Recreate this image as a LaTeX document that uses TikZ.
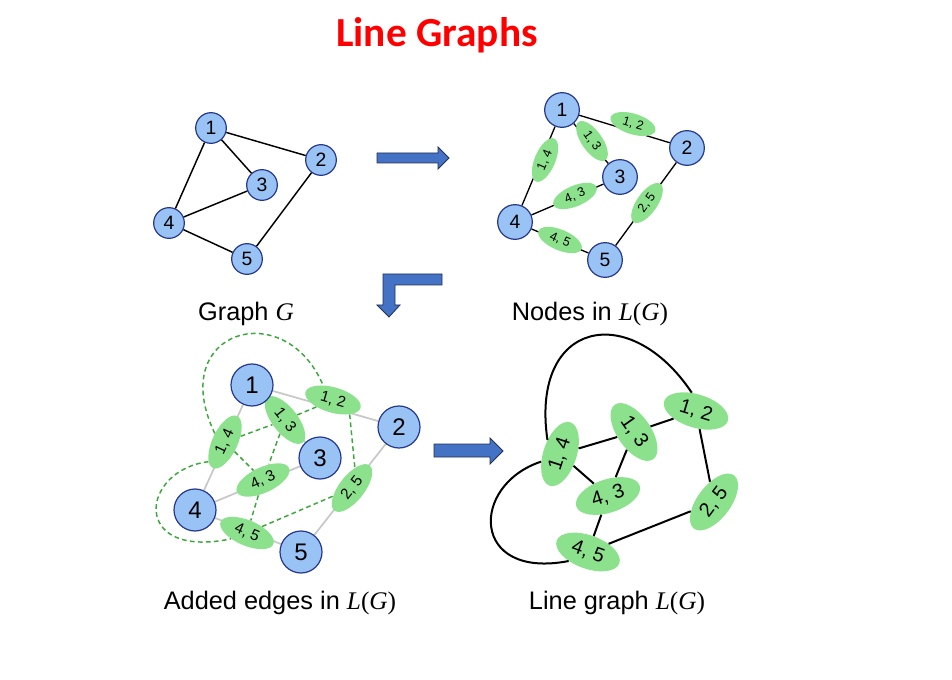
\documentclass[tikz,border=0pt]{standalone}
\usepackage{fontspec}
\setmainfont{Liberation Sans}
\newfontfamily\titlefont{Carlito}
\newfontfamily\lgserif{Liberation Serif}
\usetikzlibrary{shapes.geometric,backgrounds}

\definecolor{vtxfill}{RGB}{153,194,245}
\definecolor{vtxline}{RGB}{38,56,140}
\definecolor{ellfill}{RGB}{140,226,140}
\definecolor{dashgreen}{RGB}{58,168,58}
\definecolor{edgegray}{RGB}{200,200,200}
\definecolor{arrowblue}{RGB}{68,114,196}
\definecolor{arrowline}{RGB}{36,48,84}

\newcommand{\gsym}{{\lgserif\itshape G}}
\newcommand{\lgsym}{{\lgserif\textit{L}(\textit{G})}}

\begin{document}
\begin{tikzpicture}[x=0.75pt,y=-0.75pt]

	\tikzset{vtx/.style={draw=vtxline,fill=vtxfill,circle,line width=0.9pt,inner sep=0pt}}
	\tikzset{lnode/.style={ellipse,fill=ellfill,inner sep=0pt}}
	\tikzset{blockarrow/.style={fill=arrowblue,draw=arrowline,line width=0.6pt,line join=miter}}
	\tikzset{caption/.style={anchor=base,font=\fontsize{19}{22}\selectfont}}
	\tikzset{addedge/.style={dashgreen,line width=1.1pt,dash pattern=on 3.5pt off 2.5pt}}

	\useasboundingbox (0,0) rectangle (952,680);

	% title
	\node[anchor=base,text=red,font=\titlefont\bfseries\fontsize{31}{36}\selectfont] (title) at (437,47) {Line Graphs};

	% graph G
	\begin{scope}[every node/.append style={minimum size=23pt,font=\fontsize{14.5}{16}\selectfont}]
		\foreach \i/\x/\y in {1/211/128,2/321/160,3/262/185,4/169/223,5/247/259}
			\node[vtx] (g\i) at (\x,\y) {\i};
		\foreach \a/\b in {1/2,1/3,1/4,4/3,4/5,5/2}
			\draw[line width=1.1pt] (g\a) -- (g\b);
	\end{scope}
	\node[caption] (capg) at (246,321) {Graph \gsym};

	% nodes in L(G)
	\foreach \a/\b/\x/\y/\r in {1/2/633/124/-17,1/3/592/141/-55,1/4/545/160/67,4/3/575/196/23,4/5/560/240/-23,2/5/647/203/55}
		\node[lnode,rotate=\r,minimum width=35pt,minimum height=15.5pt,font=\fontsize{9.5}{11}\selectfont] (n\a\b) at (\x,\y) {\a, \b};
	\foreach \i/\x/\y in {1/562/110,2/687/148,3/620/177,4/515/222,5/605/260}
		\node[vtx,minimum size=26pt,font=\fontsize{14.5}{16}\selectfont] (n\i) at (\x,\y) {\i};
	\begin{pgfonlayer}{background}
		\foreach \a/\b in {1/2,1/3,1/4,4/3,4/5,5/2}
			\draw[line width=1pt] (n\a) -- (n\b);
	\end{pgfonlayer}
	\node[caption] (capn) at (590,321) {Nodes in \lgsym};

	% added edges in L(G)
	\foreach \a/\b/\x/\y/\r in {1/2/333/400/-16,1/3/285/420/-52,1/4/225/442/65,4/3/263/480/25,4/5/247/533/-23,2/5/352/488/52}
		\node[lnode,rotate=\r,minimum width=43pt,minimum height=19pt,font=\fontsize{11.5}{13}\selectfont] (a\a\b) at (\x,\y) {\a, \b};
	\foreach \i/\x/\y in {1/252/385,2/399/427,3/320/458,4/195/510,5/301/552}
		\node[vtx,minimum size=31.5pt,font=\fontsize{18}{20}\selectfont] (a\i) at (\x,\y) {\i};
	\begin{pgfonlayer}{background}
		\foreach \a/\b in {1/2,1/3,1/4,4/3,4/5,5/2}
			\draw[edgegray,line width=1.3pt] (a\a) -- (a\b);
	\end{pgfonlayer}
	\foreach \a/\b in {14/13,13/12,14/43,13/43,43/45,45/25}
		\draw[addedge] (a\a) -- (a\b);
	\draw[addedge] (a12.-25) -- (a25.30);
	\draw[addedge] (a14.75) .. controls (165,330) and (285,295) .. (a12.140);
	\draw[addedge] (a14.165) .. controls (140,470) and (130,560) .. (a45.223);
	\node[caption] (capa) at (280,609) {Added edges in \lgsym};

	% line graph L(G)
	\foreach \a/\b/\x/\y/\r in {1/2/696/411/-17,1/3/634/432/-55,1/4/560/454/72,4/3/608/496/18,4/5/588/552/-20,2/5/714/502/53}
		\node[lnode,rotate=\r,minimum width=50pt,minimum height=25pt,font=\fontsize{15}{17}\selectfont] (l\a\b) at (\x,\y) {\a, \b};
	\foreach \a/\b in {14/13,13/12,14/43,13/43,43/45,45/25,12/25}
		\draw[line width=1.5pt] (l\a) -- (l\b);
	\draw[line width=1.5pt] (l14.60) .. controls (530,320) and (630,300) .. (l12.120);
	\draw[line width=1.5pt] (l14.130) .. controls (470,485) and (470,580) .. (l45.225);
	\node[caption] (capl) at (617,609) {Line graph \lgsym};

	% block arrows
	\draw[blockarrow] (377,153) -- (438,153) -- (438,147) -- (449,158) -- (438,169) -- (438,163) -- (377,163) -- cycle;
	\draw[blockarrow] (442,274) -- (383,274) -- (383,305) -- (377,305) -- (389,317) -- (400,305) -- (395,305) -- (395,285) -- (442,285) -- cycle;
	\draw[blockarrow] (434,444) -- (490,444) -- (490,438) -- (503,451) -- (490,464) -- (490,457) -- (434,457) -- cycle;

\end{tikzpicture}
\end{document}
